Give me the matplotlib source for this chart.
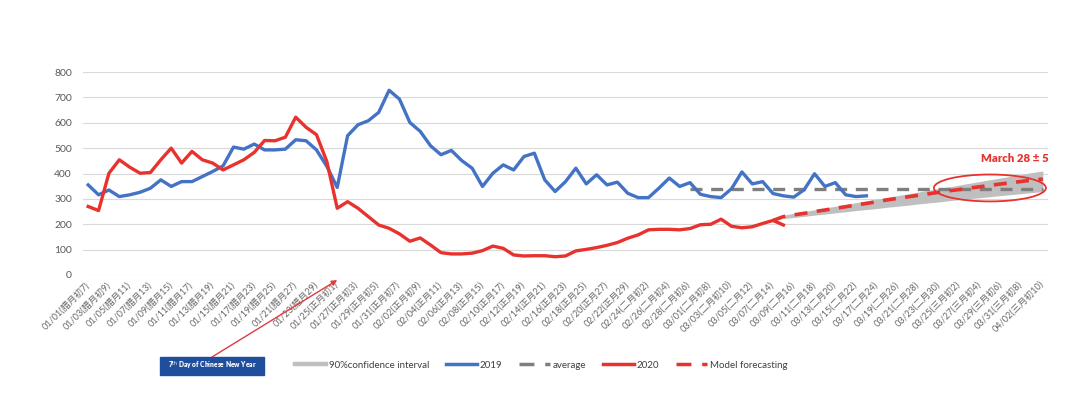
import matplotlib
matplotlib.use("Agg")
import matplotlib.pyplot as plt
from matplotlib.lines import Line2D
from matplotlib.patches import Ellipse, Rectangle

plt.rcParams['font.family'] = ['Lato', 'Noto Sans CJK SC', 'DejaVu Sans']

# ---------------- data ----------------
tick_labels = [
    "01/01(腊月初7)", "01/03(腊月初9)", "01/05(腊月11)", "01/07(腊月13)", "01/09(腊月15)",
    "01/11(腊月17)", "01/13(腊月19)", "01/15(腊月21)", "01/17(腊月23)", "01/19(腊月25)",
    "01/21(腊月27)", "01/23(腊月29)", "01/25(正月初1)", "01/27(正月初3)", "01/29(正月初5)",
    "01/31(正月初7)", "02/02(正月初9)", "02/04(正月11)", "02/06(正月13)", "02/08(正月15)",
    "02/10(正月17)", "02/12(正月19)", "02/14(正月21)", "02/16(正月23)", "02/18(正月25)",
    "02/20(正月27)", "02/22(正月29)", "02/24(二月初2)", "02/26(二月初4)", "02/28(二月初6)",
    "03/01(二月初8)", "03/03(二月初10)", "03/05(二月12)", "03/07(二月14)", "03/09(二月16)",
    "03/11(二月18)", "03/13(二月20)", "03/15(二月22)", "03/17(二月24)", "03/19(二月26)",
    "03/21(二月28)", "03/23(二月30)", "03/25(三月初2)", "03/27(三月初4)", "03/29(三月初6)",
    "03/31(三月初8)", "04/02(三月初10)",
]
n_days = 93  # 01/01 .. 04/02 (2020)

series_2019 = [
    355, 316, 335, 309, 316, 326, 342, 375, 349, 368,
    368, 388, 408, 430, 504, 496, 516, 493, 493, 496,
    533, 529, 493, 428, 345, 549, 592, 608, 641, 728,
    693, 601, 566, 509, 474, 491, 451, 421, 349, 401,
    434, 414, 467, 480, 375, 329, 368, 421, 359, 395,
    355, 366, 322, 305, 305, 342, 382, 349, 364, 318,
    309, 305, 340, 406, 359, 368, 321, 312, 307, 336,
    399, 349, 364, 316, 309, 312,
]

series_2020 = [
    270, 254, 401, 454, 425, 401, 404, 454, 500, 441,
    487, 454, 441, 414, 434, 454, 483, 530, 529, 543,
    622, 582, 553, 447, 263, 289, 263, 230, 197, 184,
    162, 133, 146, 118, 88, 83, 83, 86, 96, 114,
    105, 79, 75, 76, 76, 72, 75, 95, 101, 108,
    117, 128, 145, 158, 178, 180, 180, 178, 183, 198,
    200, 220, 192, 186, 190, 203, 215, 197,
]

average_start = 58
average_value = 340

forecast_start = 66
forecast = [
    215, 230, 237, 243, 250, 256, 263, 269, 276, 282,
    289, 296, 302, 308, 314, 320, 326, 332, 337, 343,
    348, 354, 359, 364, 369, 374, 378,
]

band_start = 67
band_lower = [
    222, 227, 231, 236, 240, 245, 249, 254, 258, 262,
    267, 271, 275, 280, 284, 288, 293, 297, 301, 305,
    309, 313, 317, 321, 325, 328,
]
band_upper = [
    236, 243, 250, 257, 264, 271, 278, 285, 292, 299,
    306, 313, 320, 327, 334, 341, 348, 355, 362, 369,
    376, 383, 390, 397, 404, 410,
]

# ---------------- styles ----------------
BLUE = '#4472C4'
RED = '#E8322E'
GRAY = '#7F7F7F'
BAND = '#BFBFBF'
TXT = '#595959'

fig = plt.figure(figsize=(10.8, 3.94), dpi=100)
ax = fig.add_axes([83 / 1080, 1 - 275 / 394, 965 / 1080, 203 / 394])

x2019 = list(range(len(series_2019)))
x2020 = list(range(len(series_2020)))
xavg = list(range(average_start, n_days))
xfc = list(range(forecast_start, forecast_start + len(forecast)))
xband = list(range(band_start, band_start + len(band_lower)))

ax.fill_between(xband, band_lower, band_upper, color=BAND, lw=0, zorder=2)
ax.plot(xavg, [average_value] * len(xavg), color=GRAY, lw=2.4,
        dashes=(3.6, 2.6), zorder=3)
ax.plot(x2019, series_2019, color=BLUE, lw=2.4, zorder=4, solid_joinstyle='round')
ax.plot(x2020, series_2020, color=RED, lw=2.4, zorder=5, solid_joinstyle='round')
ax.plot(xfc, forecast, color=RED, lw=2.6, dashes=(3.6, 2.6), zorder=6)

ax.set_xlim(-0.5, n_days - 0.5)
ax.set_ylim(0, 800)
ax.set_yticks(range(0, 801, 100))
ax.set_xticks(range(0, n_days, 2))
ax.set_xticklabels(tick_labels, rotation=45, ha='right', va='center',
                   rotation_mode='anchor', fontsize=6.6, color='#666666')
ax.tick_params(axis='both', length=0)
ax.tick_params(axis='x', pad=6)
ax.tick_params(axis='y', labelsize=7.5, labelcolor=TXT, pad=8)
ax.grid(axis='y', color='#D9D9D9', lw=0.8)
ax.set_axisbelow(True)
for s in ax.spines.values():
    s.set_visible(False)

# ellipse + annotation text
ax.add_patch(Ellipse((86.9, 343), width=10.8, height=106, fill=False,
                     edgecolor=RED, lw=1.3, zorder=7))
ax.text(89.3, 459, 'March 28 ± 5', ha='center', va='center', color=RED,
        fontweight='heavy', fontsize=8.2)

# arrow + box
ax.annotate('', xy=(24.0, -20), xycoords='data',
            xytext=(212 / 1080, 1 - 357 / 394), textcoords='figure fraction',
            arrowprops=dict(arrowstyle='-|>', color='#E0393E', lw=1.0,
                            mutation_scale=8, shrinkA=0, shrinkB=0),
            annotation_clip=False)
fig.patches.append(Rectangle((160 / 1080, 1 - 375 / 394), 104 / 1080, 18 / 394,
                             transform=fig.transFigure, color='#1F4E9C', zorder=1))
fig.text(212 / 1080, 1 - 366 / 394, r'7$^{\rm th}$ Day of Chinese New Year',
         ha='center', va='center', color='white', fontsize=4.8, fontweight='heavy')

# legend
handles = [
    Line2D([], [], color=BAND, lw=3.2),
    Line2D([], [], color=BLUE, lw=2.5),
    Line2D([], [], color=GRAY, lw=2.5, dashes=(4.3, 3.1)),
    Line2D([], [], color=RED, lw=2.5),
    Line2D([], [], color=RED, lw=2.5, dashes=(4.3, 3.1)),
]
labels = ['90%confidence interval', '2019', 'average', '2020', 'Model forecasting']
leg = fig.legend(handles, labels, loc='center', bbox_to_anchor=(0.501, 1 - 365 / 394),
                 ncol=5, frameon=False, fontsize=7, handlelength=3.2,
                 handletextpad=0.3, columnspacing=1.7)
for t in leg.get_texts():
    t.set_color('#404040')

fig.savefig('out.png', dpi=100)
